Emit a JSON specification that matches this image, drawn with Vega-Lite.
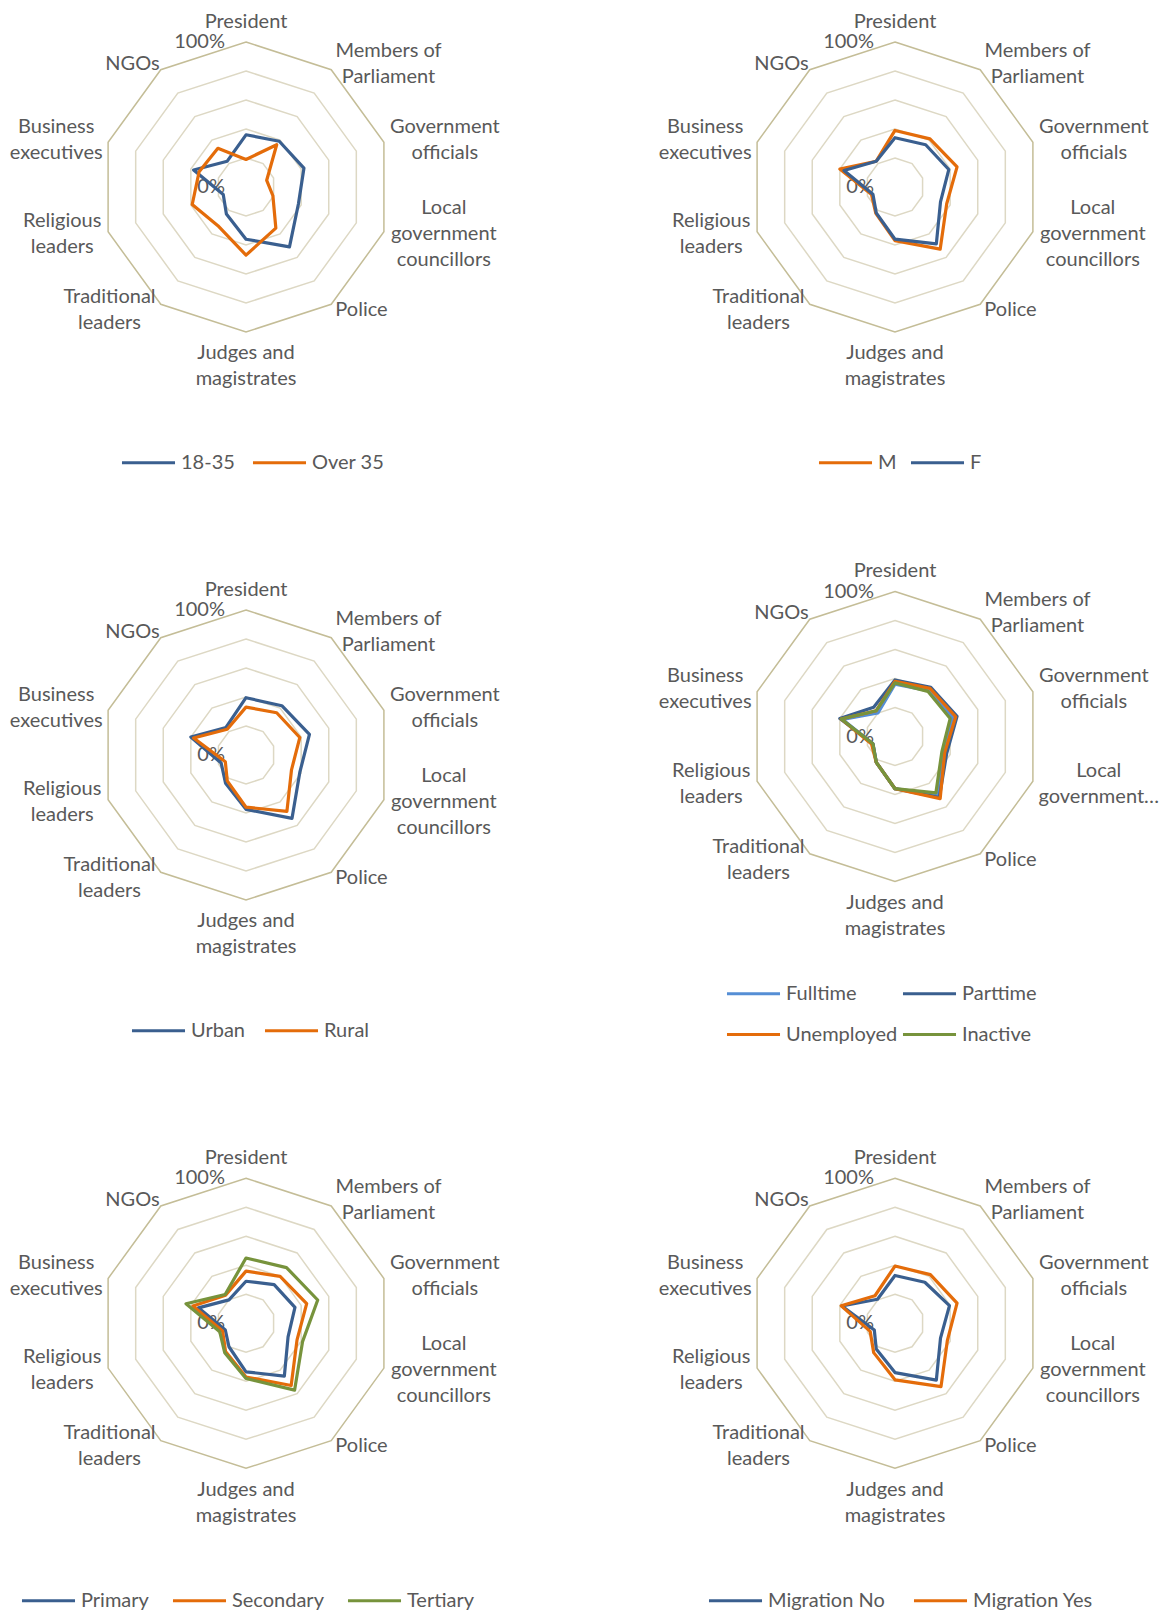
{
  "$schema": "https://vega.github.io/schema/vega-lite/v6.json",
  "padding": 0,
  "background": "white",
  "spacing": 0,
  "bounds": "flush",
  "columns": 2,
  "config": {"view": {"stroke": null}, "concat": {"spacing": 0}},
  "resolve": {"scale": {"color": "independent", "x": "independent", "y": "independent"}, "legend": {"color": "independent"}},
  "datasets": {
    "cats": [
      {"cat": "President", "k": 0, "label": "President", "label4": "President"},
      {"cat": "Members of Parliament", "k": 1, "label": "Members of\nParliament", "label4": "Members of\nParliament"},
      {"cat": "Government officials", "k": 2, "label": "Government\nofficials", "label4": "Government\nofficials"},
      {"cat": "Local government councillors", "k": 3, "label": "Local\ngovernment\ncouncillors", "label4": "Local\ngovernment…"},
      {"cat": "Police", "k": 4, "label": "Police", "label4": "Police"},
      {"cat": "Judges and magistrates", "k": 5, "label": "Judges and\nmagistrates", "label4": "Judges and\nmagistrates"},
      {"cat": "Traditional leaders", "k": 6, "label": "Traditional\nleaders", "label4": "Traditional\nleaders"},
      {"cat": "Religious leaders", "k": 7, "label": "Religious\nleaders", "label4": "Religious\nleaders"},
      {"cat": "Business executives", "k": 8, "label": "Business\nexecutives", "label4": "Business\nexecutives"},
      {"cat": "NGOs", "k": 9, "label": "NGOs", "label4": "NGOs"}
    ],
    "rings": [
      {"level": 0.2, "ks": [0,1,2,3,4,5,6,7,8,9]},
      {"level": 0.4, "ks": [0,1,2,3,4,5,6,7,8,9]},
      {"level": 0.6, "ks": [0,1,2,3,4,5,6,7,8,9]},
      {"level": 0.8, "ks": [0,1,2,3,4,5,6,7,8,9]},
      {"level": 1.0, "ks": [0,1,2,3,4,5,6,7,8,9]}
    ],
    "ticks": [{"t": "100%", "lv": 1}, {"t": "0%", "lv": 0}],
    "vals": [
      {"p":1,"s":"18-35","cat":"President","v":0.36},
      {"p":1,"s":"18-35","cat":"Members of Parliament","v":0.39},
      {"p":1,"s":"18-35","cat":"Government officials","v":0.42},
      {"p":1,"s":"18-35","cat":"Local government councillors","v":0.38},
      {"p":1,"s":"18-35","cat":"Police","v":0.51},
      {"p":1,"s":"18-35","cat":"Judges and magistrates","v":0.36},
      {"p":1,"s":"18-35","cat":"Traditional leaders","v":0.23},
      {"p":1,"s":"18-35","cat":"Religious leaders","v":0.165},
      {"p":1,"s":"18-35","cat":"Business executives","v":0.38},
      {"p":1,"s":"18-35","cat":"NGOs","v":0.22},
      {"p":1,"s":"Over 35","cat":"President","v":0.19},
      {"p":1,"s":"Over 35","cat":"Members of Parliament","v":0.36},
      {"p":1,"s":"Over 35","cat":"Government officials","v":0.15},
      {"p":1,"s":"Over 35","cat":"Local government councillors","v":0.195},
      {"p":1,"s":"Over 35","cat":"Police","v":0.35},
      {"p":1,"s":"Over 35","cat":"Judges and magistrates","v":0.47},
      {"p":1,"s":"Over 35","cat":"Traditional leaders","v":0.33},
      {"p":1,"s":"Over 35","cat":"Religious leaders","v":0.39},
      {"p":1,"s":"Over 35","cat":"Business executives","v":0.34},
      {"p":1,"s":"Over 35","cat":"NGOs","v":0.33},

      {"p":2,"s":"M","cat":"President","v":0.39},
      {"p":2,"s":"M","cat":"Members of Parliament","v":0.41},
      {"p":2,"s":"M","cat":"Government officials","v":0.45},
      {"p":2,"s":"M","cat":"Local government councillors","v":0.375},
      {"p":2,"s":"M","cat":"Police","v":0.53},
      {"p":2,"s":"M","cat":"Judges and magistrates","v":0.37},
      {"p":2,"s":"M","cat":"Traditional leaders","v":0.225},
      {"p":2,"s":"M","cat":"Religious leaders","v":0.17},
      {"p":2,"s":"M","cat":"Business executives","v":0.40},
      {"p":2,"s":"M","cat":"NGOs","v":0.22},
      {"p":2,"s":"F","cat":"President","v":0.34},
      {"p":2,"s":"F","cat":"Members of Parliament","v":0.36},
      {"p":2,"s":"F","cat":"Government officials","v":0.39},
      {"p":2,"s":"F","cat":"Local government councillors","v":0.33},
      {"p":2,"s":"F","cat":"Police","v":0.485},
      {"p":2,"s":"F","cat":"Judges and magistrates","v":0.36},
      {"p":2,"s":"F","cat":"Traditional leaders","v":0.22},
      {"p":2,"s":"F","cat":"Religious leaders","v":0.16},
      {"p":2,"s":"F","cat":"Business executives","v":0.37},
      {"p":2,"s":"F","cat":"NGOs","v":0.22},

      {"p":3,"s":"Urban","cat":"President","v":0.395},
      {"p":3,"s":"Urban","cat":"Members of Parliament","v":0.42},
      {"p":3,"s":"Urban","cat":"Government officials","v":0.46},
      {"p":3,"s":"Urban","cat":"Local government councillors","v":0.39},
      {"p":3,"s":"Urban","cat":"Police","v":0.54},
      {"p":3,"s":"Urban","cat":"Judges and magistrates","v":0.375},
      {"p":3,"s":"Urban","cat":"Traditional leaders","v":0.24},
      {"p":3,"s":"Urban","cat":"Religious leaders","v":0.18},
      {"p":3,"s":"Urban","cat":"Business executives","v":0.40},
      {"p":3,"s":"Urban","cat":"NGOs","v":0.235},
      {"p":3,"s":"Rural","cat":"President","v":0.33},
      {"p":3,"s":"Rural","cat":"Members of Parliament","v":0.36},
      {"p":3,"s":"Rural","cat":"Government officials","v":0.39},
      {"p":3,"s":"Rural","cat":"Local government councillors","v":0.33},
      {"p":3,"s":"Rural","cat":"Police","v":0.48},
      {"p":3,"s":"Rural","cat":"Judges and magistrates","v":0.36},
      {"p":3,"s":"Rural","cat":"Traditional leaders","v":0.22},
      {"p":3,"s":"Rural","cat":"Religious leaders","v":0.15},
      {"p":3,"s":"Rural","cat":"Business executives","v":0.38},
      {"p":3,"s":"Rural","cat":"NGOs","v":0.22},

      {"p":4,"s":"Fulltime","cat":"President","v":0.36},
      {"p":4,"s":"Fulltime","cat":"Members of Parliament","v":0.39},
      {"p":4,"s":"Fulltime","cat":"Government officials","v":0.42},
      {"p":4,"s":"Fulltime","cat":"Local government councillors","v":0.35},
      {"p":4,"s":"Fulltime","cat":"Police","v":0.50},
      {"p":4,"s":"Fulltime","cat":"Judges and magistrates","v":0.36},
      {"p":4,"s":"Fulltime","cat":"Traditional leaders","v":0.22},
      {"p":4,"s":"Fulltime","cat":"Religious leaders","v":0.16},
      {"p":4,"s":"Fulltime","cat":"Business executives","v":0.38},
      {"p":4,"s":"Fulltime","cat":"NGOs","v":0.20},
      {"p":4,"s":"Parttime","cat":"President","v":0.39},
      {"p":4,"s":"Parttime","cat":"Members of Parliament","v":0.42},
      {"p":4,"s":"Parttime","cat":"Government officials","v":0.45},
      {"p":4,"s":"Parttime","cat":"Local government councillors","v":0.375},
      {"p":4,"s":"Parttime","cat":"Police","v":0.52},
      {"p":4,"s":"Parttime","cat":"Judges and magistrates","v":0.36},
      {"p":4,"s":"Parttime","cat":"Traditional leaders","v":0.22},
      {"p":4,"s":"Parttime","cat":"Religious leaders","v":0.16},
      {"p":4,"s":"Parttime","cat":"Business executives","v":0.40},
      {"p":4,"s":"Parttime","cat":"NGOs","v":0.25},
      {"p":4,"s":"Unemployed","cat":"President","v":0.38},
      {"p":4,"s":"Unemployed","cat":"Members of Parliament","v":0.41},
      {"p":4,"s":"Unemployed","cat":"Government officials","v":0.44},
      {"p":4,"s":"Unemployed","cat":"Local government councillors","v":0.36},
      {"p":4,"s":"Unemployed","cat":"Police","v":0.53},
      {"p":4,"s":"Unemployed","cat":"Judges and magistrates","v":0.36},
      {"p":4,"s":"Unemployed","cat":"Traditional leaders","v":0.22},
      {"p":4,"s":"Unemployed","cat":"Religious leaders","v":0.17},
      {"p":4,"s":"Unemployed","cat":"Business executives","v":0.39},
      {"p":4,"s":"Unemployed","cat":"NGOs","v":0.22},
      {"p":4,"s":"Inactive","cat":"President","v":0.37},
      {"p":4,"s":"Inactive","cat":"Members of Parliament","v":0.385},
      {"p":4,"s":"Inactive","cat":"Government officials","v":0.40},
      {"p":4,"s":"Inactive","cat":"Local government councillors","v":0.34},
      {"p":4,"s":"Inactive","cat":"Police","v":0.48},
      {"p":4,"s":"Inactive","cat":"Judges and magistrates","v":0.36},
      {"p":4,"s":"Inactive","cat":"Traditional leaders","v":0.22},
      {"p":4,"s":"Inactive","cat":"Religious leaders","v":0.16},
      {"p":4,"s":"Inactive","cat":"Business executives","v":0.39},
      {"p":4,"s":"Inactive","cat":"NGOs","v":0.22},

      {"p":5,"s":"Primary","cat":"President","v":0.29},
      {"p":5,"s":"Primary","cat":"Members of Parliament","v":0.33},
      {"p":5,"s":"Primary","cat":"Government officials","v":0.355},
      {"p":5,"s":"Primary","cat":"Local government councillors","v":0.305},
      {"p":5,"s":"Primary","cat":"Police","v":0.45},
      {"p":5,"s":"Primary","cat":"Judges and magistrates","v":0.335},
      {"p":5,"s":"Primary","cat":"Traditional leaders","v":0.20},
      {"p":5,"s":"Primary","cat":"Religious leaders","v":0.15},
      {"p":5,"s":"Primary","cat":"Business executives","v":0.345},
      {"p":5,"s":"Primary","cat":"NGOs","v":0.20},
      {"p":5,"s":"Secondary","cat":"President","v":0.36},
      {"p":5,"s":"Secondary","cat":"Members of Parliament","v":0.40},
      {"p":5,"s":"Secondary","cat":"Government officials","v":0.44},
      {"p":5,"s":"Secondary","cat":"Local government councillors","v":0.37},
      {"p":5,"s":"Secondary","cat":"Police","v":0.53},
      {"p":5,"s":"Secondary","cat":"Judges and magistrates","v":0.37},
      {"p":5,"s":"Secondary","cat":"Traditional leaders","v":0.24},
      {"p":5,"s":"Secondary","cat":"Religious leaders","v":0.17},
      {"p":5,"s":"Secondary","cat":"Business executives","v":0.385},
      {"p":5,"s":"Secondary","cat":"NGOs","v":0.24},
      {"p":5,"s":"Tertiary","cat":"President","v":0.45},
      {"p":5,"s":"Tertiary","cat":"Members of Parliament","v":0.475},
      {"p":5,"s":"Tertiary","cat":"Government officials","v":0.52},
      {"p":5,"s":"Tertiary","cat":"Local government councillors","v":0.41},
      {"p":5,"s":"Tertiary","cat":"Police","v":0.57},
      {"p":5,"s":"Tertiary","cat":"Judges and magistrates","v":0.38},
      {"p":5,"s":"Tertiary","cat":"Traditional leaders","v":0.25},
      {"p":5,"s":"Tertiary","cat":"Religious leaders","v":0.19},
      {"p":5,"s":"Tertiary","cat":"Business executives","v":0.435},
      {"p":5,"s":"Tertiary","cat":"NGOs","v":0.245},

      {"p":6,"s":"Migration No","cat":"President","v":0.33},
      {"p":6,"s":"Migration No","cat":"Members of Parliament","v":0.35},
      {"p":6,"s":"Migration No","cat":"Government officials","v":0.395},
      {"p":6,"s":"Migration No","cat":"Local government councillors","v":0.33},
      {"p":6,"s":"Migration No","cat":"Police","v":0.485},
      {"p":6,"s":"Migration No","cat":"Judges and magistrates","v":0.34},
      {"p":6,"s":"Migration No","cat":"Traditional leaders","v":0.22},
      {"p":6,"s":"Migration No","cat":"Religious leaders","v":0.15},
      {"p":6,"s":"Migration No","cat":"Business executives","v":0.385},
      {"p":6,"s":"Migration No","cat":"NGOs","v":0.205},
      {"p":6,"s":"Migration Yes","cat":"President","v":0.395},
      {"p":6,"s":"Migration Yes","cat":"Members of Parliament","v":0.415},
      {"p":6,"s":"Migration Yes","cat":"Government officials","v":0.45},
      {"p":6,"s":"Migration Yes","cat":"Local government councillors","v":0.38},
      {"p":6,"s":"Migration Yes","cat":"Police","v":0.54},
      {"p":6,"s":"Migration Yes","cat":"Judges and magistrates","v":0.39},
      {"p":6,"s":"Migration Yes","cat":"Traditional leaders","v":0.25},
      {"p":6,"s":"Migration Yes","cat":"Religious leaders","v":0.18},
      {"p":6,"s":"Migration Yes","cat":"Business executives","v":0.39},
      {"p":6,"s":"Migration Yes","cat":"NGOs","v":0.235}
    ]
  },
  "concat": [
    {
      "width": 584, "height": 568,
      "layer": [
        {"data": {"name": "rings"},
         "transform": [{"flatten": ["ks"], "as": ["k"]}, {"calculate": "datum.level*sin(datum.k*PI/5)", "as": "px"}, {"calculate": "datum.level*cos(datum.k*PI/5)", "as": "py"}],
         "mark": {"type": "line", "interpolate": "linear-closed", "strokeWidth": 1.5},
         "encoding": {
           "x": {"field": "px", "type": "quantitative", "scale": {"domain": [-1.6966, 2.3310], "nice": false, "zero": false}, "axis": null},
           "y": {"field": "py", "type": "quantitative", "scale": {"domain": [-2.6276, 1.2897], "nice": false, "zero": false}, "axis": null},
           "detail": {"field": "level", "type": "nominal"},
           "order": {"field": "k", "type": "quantitative"},
           "stroke": {"condition": {"test": "datum.level == 1", "value": "#C4BD97"}, "value": "#DDD8C4"}
         }},
        {"data": {"name": "cats"},
         "transform": [{"calculate": "1.05*sin(datum.k*PI/5)", "as": "px"}, {"calculate": "1.05*cos(datum.k*PI/5)", "as": "py"}],
         "mark": {"type": "text", "font": "Lato", "fontSize": 20, "color": "#595959", "lineBreak": "\n", "lineHeight": 26, "align": "center",
                  "dx": {"expr": "[0,53,54,53,26,0,-47,-39,-45,-24][datum.k]"},
                  "dy": {"expr": "datum.k == 0 ? -3 : (datum.k == 5 ? 4 : -(length(split(datum.label,'\\n'))-1)*13)"},
                  "baseline": {"expr": "datum.k == 0 ? 'bottom' : (datum.k == 5 ? 'top' : 'middle')"}},
         "encoding": {
           "x": {"field": "px", "type": "quantitative", "scale": {"domain": [-1.6966, 2.3310], "nice": false, "zero": false}, "axis": null},
           "y": {"field": "py", "type": "quantitative", "scale": {"domain": [-2.6276, 1.2897], "nice": false, "zero": false}, "axis": null},
           "text": {"field": "label"}
         }},
        {"data": {"name": "ticks"},
         "transform": [{"calculate": "0", "as": "px"}],
         "mark": {"type": "text", "font": "Lato", "fontSize": 20, "color": "#595959", "align": "right", "baseline": "middle", "dx": -21},
         "encoding": {
           "x": {"field": "px", "type": "quantitative", "scale": {"domain": [-1.6966, 2.3310], "nice": false, "zero": false}, "axis": null},
           "y": {"field": "lv", "type": "quantitative", "scale": {"domain": [-2.6276, 1.2897], "nice": false, "zero": false}, "axis": null},
           "text": {"field": "t"}
         }},
        {"data": {"name": "vals"},
         "transform": [{"filter": "datum.p == 1"}, {"lookup": "cat", "from": {"data": {"name": "cats"}, "key": "cat", "fields": ["k"]}}, {"calculate": "datum.v*sin(datum.k*PI/5)", "as": "px"}, {"calculate": "datum.v*cos(datum.k*PI/5)", "as": "py"}],
         "mark": {"type": "line", "interpolate": "linear-closed", "strokeWidth": 3.2, "strokeJoin": "round"},
         "encoding": {
           "x": {"field": "px", "type": "quantitative", "scale": {"domain": [-1.6966, 2.3310], "nice": false, "zero": false}, "axis": null},
           "y": {"field": "py", "type": "quantitative", "scale": {"domain": [-2.6276, 1.2897], "nice": false, "zero": false}, "axis": null},
           "order": {"field": "k", "type": "quantitative"},
           "color": {"field": "s", "type": "nominal", "scale": {"domain": ["18-35", "Over 35"], "range": ["#3A5F8F", "#E46C0A"]},
             "legend": {"orient": "none", "legendX": 136, "legendY": 450, "direction": "horizontal", "title": null, "symbolType": "M-2.5,0L2.5,0", "symbolSize": 450, "symbolStrokeWidth": 3, "labelFont": "Lato", "labelFontSize": 20, "labelColor": "#595959", "labelOffset": 20, "columnPadding": 11, "padding": 0}}
         }}
      ]
    },
    {
      "width": 584, "height": 568,
      "layer": [
        {"data": {"name": "rings"},
         "transform": [{"flatten": ["ks"], "as": ["k"]}, {"calculate": "datum.level*sin(datum.k*PI/5)", "as": "px"}, {"calculate": "datum.level*cos(datum.k*PI/5)", "as": "py"}],
         "mark": {"type": "line", "interpolate": "linear-closed", "strokeWidth": 1.5},
         "encoding": {
           "x": {"field": "px", "type": "quantitative", "scale": {"domain": [-2.1448, 1.8828], "nice": false, "zero": false}, "axis": null},
           "y": {"field": "py", "type": "quantitative", "scale": {"domain": [-2.6276, 1.2897], "nice": false, "zero": false}, "axis": null},
           "detail": {"field": "level", "type": "nominal"},
           "order": {"field": "k", "type": "quantitative"},
           "stroke": {"condition": {"test": "datum.level == 1", "value": "#C4BD97"}, "value": "#DDD8C4"}
         }},
        {"data": {"name": "cats"},
         "transform": [{"calculate": "1.05*sin(datum.k*PI/5)", "as": "px"}, {"calculate": "1.05*cos(datum.k*PI/5)", "as": "py"}],
         "mark": {"type": "text", "font": "Lato", "fontSize": 20, "color": "#595959", "lineBreak": "\n", "lineHeight": 26, "align": "center",
                  "dx": {"expr": "[0,53,54,53,26,0,-47,-39,-45,-24][datum.k]"},
                  "dy": {"expr": "datum.k == 0 ? -3 : (datum.k == 5 ? 4 : -(length(split(datum.label,'\\n'))-1)*13)"},
                  "baseline": {"expr": "datum.k == 0 ? 'bottom' : (datum.k == 5 ? 'top' : 'middle')"}},
         "encoding": {
           "x": {"field": "px", "type": "quantitative", "scale": {"domain": [-2.1448, 1.8828], "nice": false, "zero": false}, "axis": null},
           "y": {"field": "py", "type": "quantitative", "scale": {"domain": [-2.6276, 1.2897], "nice": false, "zero": false}, "axis": null},
           "text": {"field": "label"}
         }},
        {"data": {"name": "ticks"},
         "transform": [{"calculate": "0", "as": "px"}],
         "mark": {"type": "text", "font": "Lato", "fontSize": 20, "color": "#595959", "align": "right", "baseline": "middle", "dx": -21},
         "encoding": {
           "x": {"field": "px", "type": "quantitative", "scale": {"domain": [-2.1448, 1.8828], "nice": false, "zero": false}, "axis": null},
           "y": {"field": "lv", "type": "quantitative", "scale": {"domain": [-2.6276, 1.2897], "nice": false, "zero": false}, "axis": null},
           "text": {"field": "t"}
         }},
        {"data": {"name": "vals"},
         "transform": [{"filter": "datum.p == 2"}, {"lookup": "cat", "from": {"data": {"name": "cats"}, "key": "cat", "fields": ["k"]}}, {"calculate": "datum.v*sin(datum.k*PI/5)", "as": "px"}, {"calculate": "datum.v*cos(datum.k*PI/5)", "as": "py"}],
         "mark": {"type": "line", "interpolate": "linear-closed", "strokeWidth": 3.2, "strokeJoin": "round"},
         "encoding": {
           "x": {"field": "px", "type": "quantitative", "scale": {"domain": [-2.1448, 1.8828], "nice": false, "zero": false}, "axis": null},
           "y": {"field": "py", "type": "quantitative", "scale": {"domain": [-2.6276, 1.2897], "nice": false, "zero": false}, "axis": null},
           "order": {"field": "k", "type": "quantitative"},
           "color": {"field": "s", "type": "nominal", "scale": {"domain": ["M", "F"], "range": ["#E46C0A", "#3A5F8F"]},
             "legend": {"orient": "none", "legendX": 249, "legendY": 450, "direction": "horizontal", "title": null, "symbolType": "M-2.5,0L2.5,0", "symbolSize": 450, "symbolStrokeWidth": 3, "labelFont": "Lato", "labelFontSize": 20, "labelColor": "#595959", "labelOffset": 20, "columnPadding": 7, "padding": 0}}
         }}
      ]
    },
    {
      "width": 584, "height": 568,
      "layer": [
        {"data": {"name": "rings"},
         "transform": [{"flatten": ["ks"], "as": ["k"]}, {"calculate": "datum.level*sin(datum.k*PI/5)", "as": "px"}, {"calculate": "datum.level*cos(datum.k*PI/5)", "as": "py"}],
         "mark": {"type": "line", "interpolate": "linear-closed", "strokeWidth": 1.5},
         "encoding": {
           "x": {"field": "px", "type": "quantitative", "scale": {"domain": [-1.6966, 2.3310], "nice": false, "zero": false}, "axis": null},
           "y": {"field": "py", "type": "quantitative", "scale": {"domain": [-2.6276, 1.2897], "nice": false, "zero": false}, "axis": null},
           "detail": {"field": "level", "type": "nominal"},
           "order": {"field": "k", "type": "quantitative"},
           "stroke": {"condition": {"test": "datum.level == 1", "value": "#C4BD97"}, "value": "#DDD8C4"}
         }},
        {"data": {"name": "cats"},
         "transform": [{"calculate": "1.05*sin(datum.k*PI/5)", "as": "px"}, {"calculate": "1.05*cos(datum.k*PI/5)", "as": "py"}],
         "mark": {"type": "text", "font": "Lato", "fontSize": 20, "color": "#595959", "lineBreak": "\n", "lineHeight": 26, "align": "center",
                  "dx": {"expr": "[0,53,54,53,26,0,-47,-39,-45,-24][datum.k]"},
                  "dy": {"expr": "datum.k == 0 ? -3 : (datum.k == 5 ? 4 : -(length(split(datum.label,'\\n'))-1)*13)"},
                  "baseline": {"expr": "datum.k == 0 ? 'bottom' : (datum.k == 5 ? 'top' : 'middle')"}},
         "encoding": {
           "x": {"field": "px", "type": "quantitative", "scale": {"domain": [-1.6966, 2.3310], "nice": false, "zero": false}, "axis": null},
           "y": {"field": "py", "type": "quantitative", "scale": {"domain": [-2.6276, 1.2897], "nice": false, "zero": false}, "axis": null},
           "text": {"field": "label"}
         }},
        {"data": {"name": "ticks"},
         "transform": [{"calculate": "0", "as": "px"}],
         "mark": {"type": "text", "font": "Lato", "fontSize": 20, "color": "#595959", "align": "right", "baseline": "middle", "dx": -21},
         "encoding": {
           "x": {"field": "px", "type": "quantitative", "scale": {"domain": [-1.6966, 2.3310], "nice": false, "zero": false}, "axis": null},
           "y": {"field": "lv", "type": "quantitative", "scale": {"domain": [-2.6276, 1.2897], "nice": false, "zero": false}, "axis": null},
           "text": {"field": "t"}
         }},
        {"data": {"name": "vals"},
         "transform": [{"filter": "datum.p == 3"}, {"lookup": "cat", "from": {"data": {"name": "cats"}, "key": "cat", "fields": ["k"]}}, {"calculate": "datum.v*sin(datum.k*PI/5)", "as": "px"}, {"calculate": "datum.v*cos(datum.k*PI/5)", "as": "py"}],
         "mark": {"type": "line", "interpolate": "linear-closed", "strokeWidth": 3.2, "strokeJoin": "round"},
         "encoding": {
           "x": {"field": "px", "type": "quantitative", "scale": {"domain": [-1.6966, 2.3310], "nice": false, "zero": false}, "axis": null},
           "y": {"field": "py", "type": "quantitative", "scale": {"domain": [-2.6276, 1.2897], "nice": false, "zero": false}, "axis": null},
           "order": {"field": "k", "type": "quantitative"},
           "color": {"field": "s", "type": "nominal", "scale": {"domain": ["Urban", "Rural"], "range": ["#3A5F8F", "#E46C0A"]},
             "legend": {"orient": "none", "legendX": 146, "legendY": 450, "direction": "horizontal", "title": null, "symbolType": "M-2.5,0L2.5,0", "symbolSize": 450, "symbolStrokeWidth": 3, "labelFont": "Lato", "labelFontSize": 20, "labelColor": "#595959", "labelOffset": 20, "columnPadding": 13, "padding": 0}}
         }}
      ]
    },
    {
      "width": 584, "height": 568,
      "layer": [
        {"data": {"name": "rings"},
         "transform": [{"flatten": ["ks"], "as": ["k"]}, {"calculate": "datum.level*sin(datum.k*PI/5)", "as": "px"}, {"calculate": "datum.level*cos(datum.k*PI/5)", "as": "py"}],
         "mark": {"type": "line", "interpolate": "linear-closed", "strokeWidth": 1.5},
         "encoding": {
           "x": {"field": "px", "type": "quantitative", "scale": {"domain": [-2.1448, 1.8828], "nice": false, "zero": false}, "axis": null},
           "y": {"field": "py", "type": "quantitative", "scale": {"domain": [-2.7552, 1.1621], "nice": false, "zero": false}, "axis": null},
           "detail": {"field": "level", "type": "nominal"},
           "order": {"field": "k", "type": "quantitative"},
           "stroke": {"condition": {"test": "datum.level == 1", "value": "#C4BD97"}, "value": "#DDD8C4"}
         }},
        {"data": {"name": "cats"},
         "transform": [{"calculate": "1.05*sin(datum.k*PI/5)", "as": "px"}, {"calculate": "1.05*cos(datum.k*PI/5)", "as": "py"}],
         "mark": {"type": "text", "font": "Lato", "fontSize": 20, "color": "#595959", "lineBreak": "\n", "lineHeight": 26, "align": "center",
                  "dx": {"expr": "[0,53,54,59,26,0,-47,-39,-45,-24][datum.k]"},
                  "dy": {"expr": "datum.k == 0 ? -3 : (datum.k == 5 ? 4 : -(length(split(datum.label4,'\\n'))-1)*13)"},
                  "baseline": {"expr": "datum.k == 0 ? 'bottom' : (datum.k == 5 ? 'top' : 'middle')"}},
         "encoding": {
           "x": {"field": "px", "type": "quantitative", "scale": {"domain": [-2.1448, 1.8828], "nice": false, "zero": false}, "axis": null},
           "y": {"field": "py", "type": "quantitative", "scale": {"domain": [-2.7552, 1.1621], "nice": false, "zero": false}, "axis": null},
           "text": {"field": "label4"}
         }},
        {"data": {"name": "ticks"},
         "transform": [{"calculate": "0", "as": "px"}],
         "mark": {"type": "text", "font": "Lato", "fontSize": 20, "color": "#595959", "align": "right", "baseline": "middle", "dx": -21},
         "encoding": {
           "x": {"field": "px", "type": "quantitative", "scale": {"domain": [-2.1448, 1.8828], "nice": false, "zero": false}, "axis": null},
           "y": {"field": "lv", "type": "quantitative", "scale": {"domain": [-2.7552, 1.1621], "nice": false, "zero": false}, "axis": null},
           "text": {"field": "t"}
         }},
        {"data": {"name": "vals"},
         "transform": [{"filter": "datum.p == 4"}, {"lookup": "cat", "from": {"data": {"name": "cats"}, "key": "cat", "fields": ["k"]}}, {"calculate": "datum.v*sin(datum.k*PI/5)", "as": "px"}, {"calculate": "datum.v*cos(datum.k*PI/5)", "as": "py"}],
         "mark": {"type": "line", "interpolate": "linear-closed", "strokeWidth": 3.2, "strokeJoin": "round"},
         "encoding": {
           "x": {"field": "px", "type": "quantitative", "scale": {"domain": [-2.1448, 1.8828], "nice": false, "zero": false}, "axis": null},
           "y": {"field": "py", "type": "quantitative", "scale": {"domain": [-2.7552, 1.1621], "nice": false, "zero": false}, "axis": null},
           "order": {"field": "k", "type": "quantitative"},
           "color": {"field": "s", "type": "nominal", "scale": {"domain": ["Fulltime", "Parttime", "Unemployed", "Inactive"], "range": ["#558ED5", "#3A5F8F", "#E46C0A", "#77933C"]},
             "legend": {"orient": "none", "legendX": 157, "legendY": 413, "direction": "horizontal", "columns": 2, "title": null, "symbolType": "M-2.5,0L2.5,0", "symbolSize": 450, "symbolStrokeWidth": 3, "labelFont": "Lato", "labelFontSize": 20, "labelColor": "#595959", "labelOffset": 20, "columnPadding": -2, "rowPadding": 18, "padding": 0}}
         }}
      ]
    },
    {
      "width": 584, "height": 476,
      "layer": [
        {"data": {"name": "rings"},
         "transform": [{"flatten": ["ks"], "as": ["k"]}, {"calculate": "datum.level*sin(datum.k*PI/5)", "as": "px"}, {"calculate": "datum.level*cos(datum.k*PI/5)", "as": "py"}],
         "mark": {"type": "line", "interpolate": "linear-closed", "strokeWidth": 1.5},
         "encoding": {
           "x": {"field": "px", "type": "quantitative", "scale": {"domain": [-1.6966, 2.3310], "nice": false, "zero": false}, "axis": null},
           "y": {"field": "py", "type": "quantitative", "scale": {"domain": [-1.9910, 1.2917], "nice": false, "zero": false}, "axis": null},
           "detail": {"field": "level", "type": "nominal"},
           "order": {"field": "k", "type": "quantitative"},
           "stroke": {"condition": {"test": "datum.level == 1", "value": "#C4BD97"}, "value": "#DDD8C4"}
         }},
        {"data": {"name": "cats"},
         "transform": [{"calculate": "1.05*sin(datum.k*PI/5)", "as": "px"}, {"calculate": "1.05*cos(datum.k*PI/5)", "as": "py"}],
         "mark": {"type": "text", "font": "Lato", "fontSize": 20, "color": "#595959", "lineBreak": "\n", "lineHeight": 26, "align": "center",
                  "dx": {"expr": "[0,53,54,53,26,0,-47,-39,-45,-24][datum.k]"},
                  "dy": {"expr": "datum.k == 0 ? -3 : (datum.k == 5 ? 4 : -(length(split(datum.label,'\\n'))-1)*13)"},
                  "baseline": {"expr": "datum.k == 0 ? 'bottom' : (datum.k == 5 ? 'top' : 'middle')"}},
         "encoding": {
           "x": {"field": "px", "type": "quantitative", "scale": {"domain": [-1.6966, 2.3310], "nice": false, "zero": false}, "axis": null},
           "y": {"field": "py", "type": "quantitative", "scale": {"domain": [-1.9910, 1.2917], "nice": false, "zero": false}, "axis": null},
           "text": {"field": "label"}
         }},
        {"data": {"name": "ticks"},
         "transform": [{"calculate": "0", "as": "px"}],
         "mark": {"type": "text", "font": "Lato", "fontSize": 20, "color": "#595959", "align": "right", "baseline": "middle", "dx": -21},
         "encoding": {
           "x": {"field": "px", "type": "quantitative", "scale": {"domain": [-1.6966, 2.3310], "nice": false, "zero": false}, "axis": null},
           "y": {"field": "lv", "type": "quantitative", "scale": {"domain": [-1.9910, 1.2917], "nice": false, "zero": false}, "axis": null},
           "text": {"field": "t"}
         }},
        {"data": {"name": "vals"},
         "transform": [{"filter": "datum.p == 5"}, {"lookup": "cat", "from": {"data": {"name": "cats"}, "key": "cat", "fields": ["k"]}}, {"calculate": "datum.v*sin(datum.k*PI/5)", "as": "px"}, {"calculate": "datum.v*cos(datum.k*PI/5)", "as": "py"}],
         "mark": {"type": "line", "interpolate": "linear-closed", "strokeWidth": 3.2, "strokeJoin": "round"},
         "encoding": {
           "x": {"field": "px", "type": "quantitative", "scale": {"domain": [-1.6966, 2.3310], "nice": false, "zero": false}, "axis": null},
           "y": {"field": "py", "type": "quantitative", "scale": {"domain": [-1.9910, 1.2917], "nice": false, "zero": false}, "axis": null},
           "order": {"field": "k", "type": "quantitative"},
           "color": {"field": "s", "type": "nominal", "scale": {"domain": ["Primary", "Secondary", "Tertiary"], "range": ["#3A5F8F", "#E46C0A", "#77933C"]},
             "legend": {"orient": "none", "legendX": 36, "legendY": 452, "direction": "horizontal", "title": null, "symbolType": "M-2.5,0L2.5,0", "symbolSize": 450, "symbolStrokeWidth": 3, "labelFont": "Lato", "labelFontSize": 20, "labelColor": "#595959", "labelOffset": 20, "columnPadding": 17, "padding": 0}}
         }}
      ]
    },
    {
      "width": 584, "height": 476,
      "layer": [
        {"data": {"name": "rings"},
         "transform": [{"flatten": ["ks"], "as": ["k"]}, {"calculate": "datum.level*sin(datum.k*PI/5)", "as": "px"}, {"calculate": "datum.level*cos(datum.k*PI/5)", "as": "py"}],
         "mark": {"type": "line", "interpolate": "linear-closed", "strokeWidth": 1.5},
         "encoding": {
           "x": {"field": "px", "type": "quantitative", "scale": {"domain": [-2.1448, 1.8828], "nice": false, "zero": false}, "axis": null},
           "y": {"field": "py", "type": "quantitative", "scale": {"domain": [-1.9910, 1.2917], "nice": false, "zero": false}, "axis": null},
           "detail": {"field": "level", "type": "nominal"},
           "order": {"field": "k", "type": "quantitative"},
           "stroke": {"condition": {"test": "datum.level == 1", "value": "#C4BD97"}, "value": "#DDD8C4"}
         }},
        {"data": {"name": "cats"},
         "transform": [{"calculate": "1.05*sin(datum.k*PI/5)", "as": "px"}, {"calculate": "1.05*cos(datum.k*PI/5)", "as": "py"}],
         "mark": {"type": "text", "font": "Lato", "fontSize": 20, "color": "#595959", "lineBreak": "\n", "lineHeight": 26, "align": "center",
                  "dx": {"expr": "[0,53,54,53,26,0,-47,-39,-45,-24][datum.k]"},
                  "dy": {"expr": "datum.k == 0 ? -3 : (datum.k == 5 ? 4 : -(length(split(datum.label,'\\n'))-1)*13)"},
                  "baseline": {"expr": "datum.k == 0 ? 'bottom' : (datum.k == 5 ? 'top' : 'middle')"}},
         "encoding": {
           "x": {"field": "px", "type": "quantitative", "scale": {"domain": [-2.1448, 1.8828], "nice": false, "zero": false}, "axis": null},
           "y": {"field": "py", "type": "quantitative", "scale": {"domain": [-1.9910, 1.2917], "nice": false, "zero": false}, "axis": null},
           "text": {"field": "label"}
         }},
        {"data": {"name": "ticks"},
         "transform": [{"calculate": "0", "as": "px"}],
         "mark": {"type": "text", "font": "Lato", "fontSize": 20, "color": "#595959", "align": "right", "baseline": "middle", "dx": -21},
         "encoding": {
           "x": {"field": "px", "type": "quantitative", "scale": {"domain": [-2.1448, 1.8828], "nice": false, "zero": false}, "axis": null},
           "y": {"field": "lv", "type": "quantitative", "scale": {"domain": [-1.9910, 1.2917], "nice": false, "zero": false}, "axis": null},
           "text": {"field": "t"}
         }},
        {"data": {"name": "vals"},
         "transform": [{"filter": "datum.p == 6"}, {"lookup": "cat", "from": {"data": {"name": "cats"}, "key": "cat", "fields": ["k"]}}, {"calculate": "datum.v*sin(datum.k*PI/5)", "as": "px"}, {"calculate": "datum.v*cos(datum.k*PI/5)", "as": "py"}],
         "mark": {"type": "line", "interpolate": "linear-closed", "strokeWidth": 3.2, "strokeJoin": "round"},
         "encoding": {
           "x": {"field": "px", "type": "quantitative", "scale": {"domain": [-2.1448, 1.8828], "nice": false, "zero": false}, "axis": null},
           "y": {"field": "py", "type": "quantitative", "scale": {"domain": [-1.9910, 1.2917], "nice": false, "zero": false}, "axis": null},
           "order": {"field": "k", "type": "quantitative"},
           "color": {"field": "s", "type": "nominal", "scale": {"domain": ["Migration No", "Migration Yes"], "range": ["#3A5F8F", "#E46C0A"]},
             "legend": {"orient": "none", "legendX": 139, "legendY": 452, "direction": "horizontal", "title": null, "symbolType": "M-2.5,0L2.5,0", "symbolSize": 450, "symbolStrokeWidth": 3, "labelFont": "Lato", "labelFontSize": 20, "labelColor": "#595959", "labelOffset": 20, "columnPadding": 22, "padding": 0}}
         }}
      ]
    }
  ]
}
